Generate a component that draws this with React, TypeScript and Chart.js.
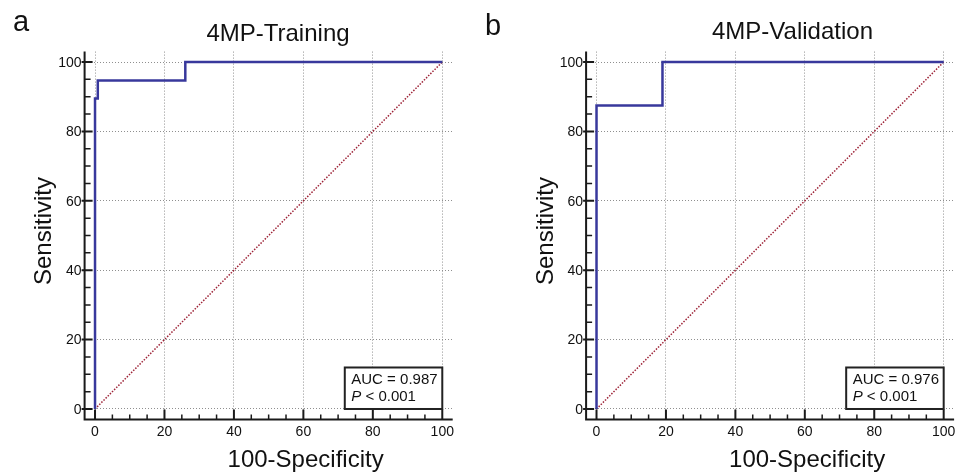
import { useEffect, useRef } from "react";
import { Chart, registerables } from "chart.js";

Chart.register(...registerables);

// ---- data ----
const TRAIN_FPR = [0, 0, 0.8, 0.8, 26, 26, 100];
const TRAIN_TPR = [0, 89.5, 89.5, 94.7, 94.7, 100, 100];
const VALID_FPR = [0, 0, 19, 19, 100];
const VALID_TPR = [0, 87.5, 87.5, 100, 100];
const REF_X = [0, 100];
const REF_Y = [0, 100];
const MAJOR_TICKS = [0, 20, 40, 60, 80, 100];
const MINOR_TICKS = [5, 10, 15, 25, 30, 35, 45, 50, 55, 65, 70, 75, 85, 90, 95];
const TRAIN_AUC = "AUC = 0.987";
const VALID_AUC = "AUC = 0.976";
const P_LABEL = "P";
const P_VALUE = " < 0.001";
const TITLES = ["4MP-Training", "4MP-Validation"];
const LETTERS = ["a", "b"];
const X_TITLE = "100-Specificity";
const Y_TITLE = "Sensitivity";

const FONT = "'Liberation Sans', Arial, Helvetica, sans-serif";

function toPoints(xs: number[], ys: number[]) {
  return xs.map((x, i) => ({ x, y: ys[i] }));
}

type PanelProps = {
  idx: number;
  fpr: number[];
  tpr: number[];
  auc: string;
  left: number;
  pad: { left: number; right: number; top: number; bottom: number };
  titleDx: number;
  titleBase: number;
  letterX: number;
  letterBase: number;
};

function RocPanel(p: PanelProps) {
  const ref = useRef<HTMLCanvasElement>(null);
  useEffect(() => {
    const deco = {
      id: "deco",
      afterDraw(chart: any) {
        const ctx = chart.ctx;
        const xs = chart.scales.x;
        const ys = chart.scales.y;
        const a = chart.chartArea;
        ctx.save();
        ctx.setLineDash([]);
        ctx.strokeStyle = "#1a1a1a";
        ctx.lineWidth = 2;
        // axis lines
        ctx.beginPath();
        ctx.moveTo(a.left, a.top);
        ctx.lineTo(a.left, a.bottom + 1);
        ctx.moveTo(a.left - 1, a.bottom);
        ctx.lineTo(a.right, a.bottom);
        ctx.stroke();
        // major ticks
        ctx.lineWidth = 2;
        ctx.beginPath();
        MAJOR_TICKS.forEach((v) => {
          const px = xs.getPixelForValue(v);
          ctx.moveTo(px, a.bottom);
          ctx.lineTo(px, a.bottom - 10);
          const py = ys.getPixelForValue(v);
          ctx.moveTo(a.left - 3, py);
          ctx.lineTo(a.left + 8, py);
        });
        ctx.stroke();
        // minor ticks
        ctx.lineWidth = 1.5;
        ctx.beginPath();
        MINOR_TICKS.forEach((v) => {
          const px = xs.getPixelForValue(v);
          ctx.moveTo(px, a.bottom);
          ctx.lineTo(px, a.bottom - 5);
          const py = ys.getPixelForValue(v);
          ctx.moveTo(a.left, py);
          ctx.lineTo(a.left + 6, py);
        });
        ctx.stroke();
        // tick labels
        ctx.fillStyle = "#111";
        ctx.font = `14px ${FONT}`;
        ctx.textAlign = "center";
        ctx.textBaseline = "alphabetic";
        MAJOR_TICKS.forEach((v) => {
          ctx.fillText(String(v), xs.getPixelForValue(v), a.bottom + 17);
        });
        ctx.textAlign = "right";
        ctx.textBaseline = "middle";
        MAJOR_TICKS.forEach((v) => {
          ctx.fillText(String(v), a.left - 3, ys.getPixelForValue(v) + 1);
        });
        // axis titles
        ctx.fillStyle = "#111";
        ctx.font = `24px ${FONT}`;
        ctx.textAlign = "center";
        ctx.textBaseline = "alphabetic";
        ctx.fillText(X_TITLE, a.left + 221, 467);
        ctx.save();
        ctx.translate(a.left - 33.5, 231);
        ctx.rotate(-Math.PI / 2);
        ctx.fillText(Y_TITLE, 0, 0);
        ctx.restore();
        // chart title
        ctx.font = `24px ${FONT}`;
        ctx.fillText(TITLES[p.idx], a.left + p.titleDx, p.titleBase);
        // panel letter
        ctx.textAlign = "left";
        ctx.font = `29px ${FONT}`;
        ctx.fillText(LETTERS[p.idx], p.letterX, p.letterBase);
        // AUC box
        const bx1 = xs.getPixelForValue(100);
        const by1 = ys.getPixelForValue(0);
        const bw = 97.5;
        const bh = 41.5;
        ctx.fillStyle = "#ffffff";
        ctx.fillRect(bx1 - bw, by1 - bh, bw, bh);
        ctx.strokeStyle = "#222";
        ctx.lineWidth = 2;
        ctx.strokeRect(bx1 - bw, by1 - bh, bw, bh);
        ctx.fillStyle = "#111";
        ctx.font = `15px ${FONT}`;
        ctx.textAlign = "left";
        ctx.fillText(p.auc, bx1 - bw + 6.5, by1 - 25);
        ctx.font = `italic 15px ${FONT}`;
        ctx.fillText(P_LABEL, bx1 - bw + 6.5, by1 - 8);
        const w = ctx.measureText(P_LABEL).width;
        ctx.font = `15px ${FONT}`;
        ctx.fillText(P_VALUE, bx1 - bw + 6.5 + w, by1 - 8);
        ctx.restore();
      },
    };

    const scaleOpts = () => ({
      type: "linear" as const,
      min: -3,
      max: 103,
      afterBuildTicks: (s: any) => {
        s.ticks = MAJOR_TICKS.map((v) => ({ value: v }));
      },
      grid: { color: "#8f8f8f", lineWidth: 1, drawTicks: false },
      border: { display: false, dash: [1, 2] },
      ticks: { display: false },
    });

    const chart = new Chart(ref.current as HTMLCanvasElement, {
      type: "scatter",
      data: {
        datasets: [
          {
            data: toPoints(p.fpr, p.tpr),
            showLine: true,
            borderColor: "#38389c",
            borderWidth: 2.5,
            pointRadius: 0,
            fill: false,
          },
          {
            data: toPoints(REF_X, REF_Y),
            showLine: true,
            borderColor: "#9e2438",
            borderWidth: 1.5,
            borderDash: [1.5, 1.5],
            pointRadius: 0,
            fill: false,
          },
        ],
      },
      options: {
        responsive: false,
        animation: false,
        layout: { padding: p.pad },
        scales: { x: scaleOpts(), y: scaleOpts() },
        plugins: {
          legend: { display: false },
          tooltip: { enabled: false },
          title: { display: false },
        },
      } as any,
      plugins: [deco],
    });
    return () => chart.destroy();
  }, []);
  return (
    <canvas
      ref={ref}
      width={480}
      height={473}
      style={{ position: "absolute", left: p.left, top: 0, width: 480, height: 473 }}
    />
  );
}

export default function App() {
  return (
    <div
      style={{
        position: "fixed",
        left: 0,
        top: 0,
        width: 960,
        height: 473,
        background: "#ffffff",
        overflow: "hidden",
      }}
    >
      <RocPanel
        idx={0}
        fpr={TRAIN_FPR}
        tpr={TRAIN_TPR}
        auc={TRAIN_AUC}
        left={0}
        pad={{ left: 84.6, right: 27.3, top: 51.6, bottom: 53.6 }}
        titleDx={193.4}
        titleBase={40.5}
        letterX={13}
        letterBase={31}
      />
      <RocPanel
        idx={1}
        fpr={VALID_FPR}
        tpr={VALID_TPR}
        auc={VALID_AUC}
        left={480}
        pad={{ left: 106.1, right: 5.9, top: 51.6, bottom: 53.6 }}
        titleDx={206.4}
        titleBase={38.5}
        letterX={5}
        letterBase={35}
      />
    </div>
  );
}
